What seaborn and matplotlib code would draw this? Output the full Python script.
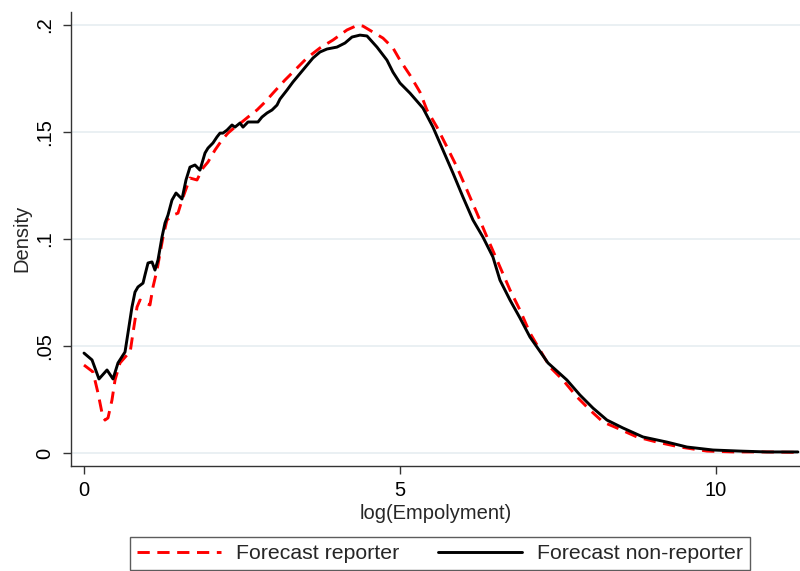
import matplotlib
matplotlib.use("Agg")
import matplotlib.pyplot as plt
import seaborn as sns
import pandas as pd

# ---- data ----
reporter_x = [0.000, 0.142, 0.222, 0.285, 0.332, 0.380, 0.443, 0.491, 0.570, 0.680,
              0.728, 0.775, 0.839, 0.886, 0.965, 1.044, 1.092, 1.155, 1.250, 1.313,
              1.408, 1.487, 1.551, 1.677, 1.788, 1.883, 1.962, 2.073, 2.184, 2.278,
              2.389, 2.500, 2.595, 2.737, 2.864, 2.991, 3.180, 3.370, 3.528, 3.734,
              3.940, 4.161, 4.335, 4.415, 4.573, 4.731, 4.889, 5.000, 5.158, 5.316,
              5.427, 5.585, 5.744, 5.902, 6.060, 6.218, 6.377, 6.535, 6.741, 6.899,
              7.057, 7.373, 7.579, 7.801, 8.006, 8.212, 8.434, 8.750, 9.066, 9.430,
              9.858, 10.269, 10.807, 11.282]
reporter_y = [0.0411, 0.0379, 0.0280, 0.0187, 0.0154, 0.0164, 0.0248, 0.0341, 0.0421, 0.0458,
              0.0467, 0.0561, 0.0682, 0.0715, 0.0701, 0.0692, 0.0776, 0.0855, 0.1009, 0.1089,
              0.1112, 0.1121, 0.1182, 0.1285, 0.1276, 0.1332, 0.1360, 0.1416, 0.1463, 0.1495,
              0.1523, 0.1547, 0.1570, 0.1603, 0.1640, 0.1682, 0.1743, 0.1799, 0.1846, 0.1893,
              0.1930, 0.1977, 0.2000, 0.1995, 0.1967, 0.1939, 0.1893, 0.1836, 0.1766, 0.1687,
              0.1603, 0.1523, 0.1430, 0.1336, 0.1229, 0.1121, 0.1009, 0.0902, 0.0762, 0.0668,
              0.0561, 0.0402, 0.0341, 0.0262, 0.0201, 0.0145, 0.0117, 0.0075, 0.0051, 0.0028,
              0.0009, 0.0005, 0.0005, 0.0003]

nonreporter_x = [0.000, 0.127, 0.237, 0.364, 0.459, 0.538, 0.649, 0.696, 0.759, 0.807,
                 0.854, 0.934, 0.965, 1.013, 1.076, 1.123, 1.171, 1.234, 1.282, 1.329,
                 1.392, 1.456, 1.551, 1.614, 1.677, 1.756, 1.835, 1.915, 1.962, 2.041,
                 2.104, 2.152, 2.199, 2.263, 2.342, 2.389, 2.468, 2.516, 2.595, 2.674,
                 2.753, 2.816, 2.896, 2.975, 3.054, 3.101, 3.212, 3.307, 3.465, 3.623,
                 3.734, 3.845, 4.003, 4.130, 4.241, 4.367, 4.478, 4.636, 4.794, 4.889,
                 5.000, 5.158, 5.364, 5.522, 5.680, 5.839, 5.997, 6.155, 6.313, 6.471,
                 6.582, 6.741, 6.899, 7.057, 7.168, 7.342, 7.642, 7.848, 8.054, 8.275,
                 8.528, 8.845, 9.225, 9.541, 9.953, 10.380, 10.807, 11.297]
nonreporter_y = [0.0467, 0.0435, 0.0346, 0.0388, 0.0346, 0.0421, 0.0472, 0.0561, 0.0682, 0.0752,
                 0.0776, 0.0794, 0.0832, 0.0888, 0.0893, 0.0855, 0.0902, 0.1009, 0.1075, 0.1112,
                 0.1182, 0.1215, 0.1187, 0.1276, 0.1336, 0.1346, 0.1322, 0.1402, 0.1425, 0.1449,
                 0.1477, 0.1495, 0.1495, 0.1509, 0.1533, 0.1523, 0.1542, 0.1523, 0.1547, 0.1547,
                 0.1547, 0.1570, 0.1589, 0.1603, 0.1626, 0.1654, 0.1696, 0.1734, 0.1790, 0.1846,
                 0.1874, 0.1888, 0.1897, 0.1916, 0.1944, 0.1953, 0.1949, 0.1897, 0.1836, 0.1780,
                 0.1729, 0.1682, 0.1612, 0.1523, 0.1416, 0.1308, 0.1196, 0.1089, 0.1009, 0.0916,
                 0.0808, 0.0715, 0.0631, 0.0542, 0.0495, 0.0421, 0.0341, 0.0271, 0.0210, 0.0154,
                 0.0117, 0.0075, 0.0051, 0.0028, 0.0014, 0.0009, 0.0005, 0.0005]

series_labels = ["Forecast reporter", "Forecast non-reporter"]
x_ticks = [0, 5, 10]
x_ticklabels = ["0", "5", "10"]
y_ticks = [0, 0.05, 0.1, 0.15, 0.2]
y_ticklabels = ["0", ".05", ".1", ".15", ".2"]

# ---- style ----
sns.set_theme(style="white")
plt.rcParams["font.family"] = ["Liberation Sans", "DejaVu Sans"]
FS = 14.5
FS_LEG = 15.3

fig = plt.figure(figsize=(8.0, 5.71), dpi=100)
W, H = 800, 571
ax = fig.add_axes([71 / W, 1 - 465.7 / H, 729 / W, (465.7 - 12) / H])

df_r = pd.DataFrame({"x": reporter_x, "y": reporter_y})
df_n = pd.DataFrame({"x": nonreporter_x, "y": nonreporter_y})

sns.lineplot(data=df_r, x="x", y="y", ax=ax, sort=False, color="#ff0000",
             linewidth=2.1, linestyle=(0, (4.2, 2.6)), label=series_labels[0], zorder=3)
sns.lineplot(data=df_n, x="x", y="y", ax=ax, sort=False, color="black",
             linewidth=2.1, label=series_labels[1], zorder=4)

ax.set_xlim(-0.2057, 11.33)
ax.set_ylim(-0.00593, 0.2061)

ax.set_xticks(x_ticks)
ax.set_xticklabels(x_ticklabels, fontsize=FS)
ax.set_yticks(y_ticks)
ax.set_yticklabels(y_ticklabels, fontsize=FS, rotation=90, va="center")

ax.tick_params(axis="both", which="major", direction="out", length=6, width=1.0,
               color="#333333", pad=5, labelcolor="black")
ax.tick_params(axis="x", bottom=True)
ax.tick_params(axis="y", left=True, pad=6)

ax.grid(axis="y", color="#e6eef1", linewidth=1.2)
ax.grid(axis="x", visible=False)
ax.set_axisbelow(True)

for s in ["top", "right"]:
    ax.spines[s].set_visible(False)
for s in ["left", "bottom"]:
    ax.spines[s].set_color("#333333")
    ax.spines[s].set_linewidth(1.0)

ax.set_xlabel("log(Empolyment)", fontsize=FS, labelpad=3)
ax.set_ylabel("Density", fontsize=FS, labelpad=3)

ax.get_legend().remove()
handles, labels = ax.get_legend_handles_labels()
leg = fig.legend(handles, labels, loc="upper left",
                 bbox_to_anchor=(130 / W, 1 - 536.5 / H),
                 borderaxespad=0.0,
                 ncol=2, fontsize=FS_LEG, frameon=True, fancybox=False,
                 handlelength=3.95, handletextpad=0.7, columnspacing=1.8,
                 borderpad=0.35)
leg.get_frame().set_edgecolor("#333333")
leg.get_frame().set_linewidth(1.0)

fig.savefig("out.png", dpi=100)
